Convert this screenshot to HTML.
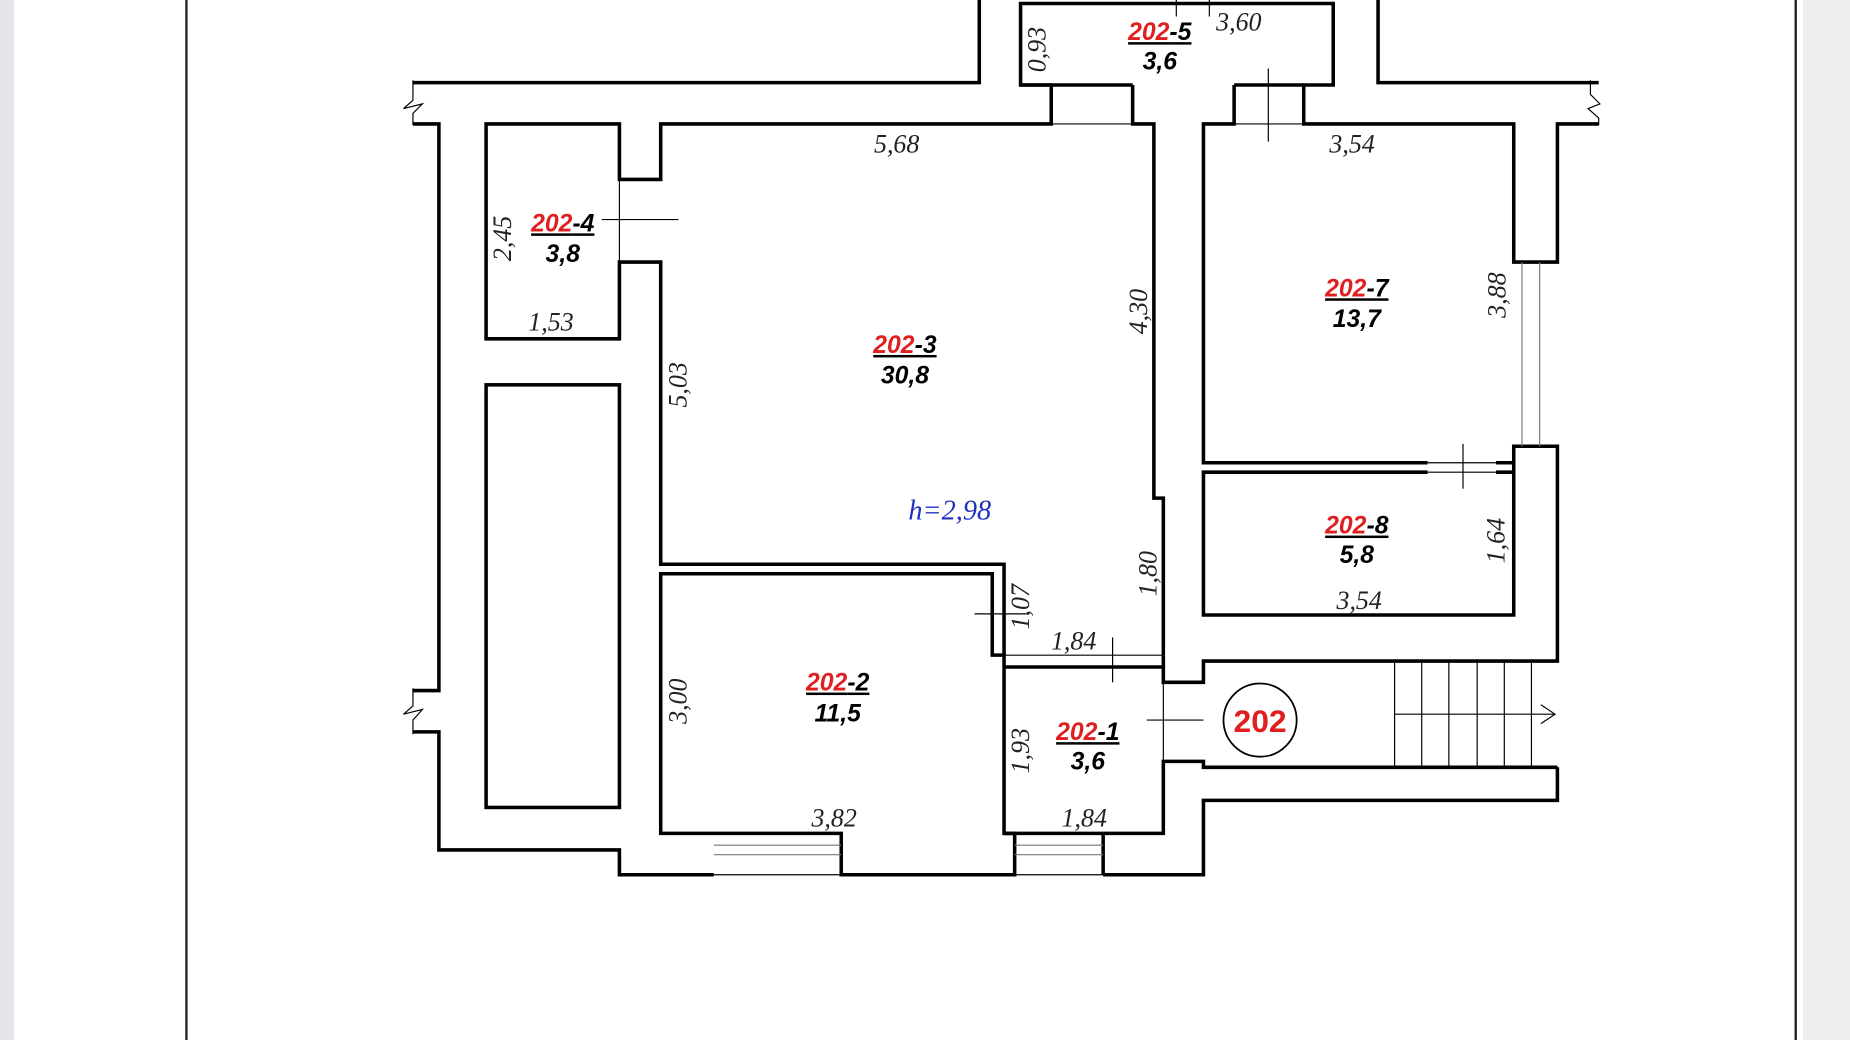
<!DOCTYPE html>
<html><head><meta charset="utf-8"><style>
html,body{margin:0;padding:0;background:#fff;}
svg{display:block;}
.w{fill:none;stroke:#000;stroke-width:3;stroke-linejoin:miter;}
.t{fill:none;stroke:#000;stroke-width:1;}
.g{fill:none;stroke:#777;stroke-width:1;}
.d{font-family:"Liberation Serif",serif;font-style:italic;font-size:22px;fill:#222;}
.r{font-family:"Liberation Sans",sans-serif;font-style:italic;font-weight:bold;font-size:21px;}
</style></head><body>
<svg width="1850" height="1040" viewBox="0 0 1568 881" preserveAspectRatio="none" xmlns="http://www.w3.org/2000/svg">
<rect x="0" y="0" width="12" height="881" fill="#e6e6ea"/>
<rect x="1528" y="0" width="40" height="881" fill="#eeeef0"/>
<line x1="158" y1="0" x2="158" y2="881" stroke="#222" stroke-width="2"/>
<line x1="1522" y1="0" x2="1522" y2="881" stroke="#222" stroke-width="2"/>

<!-- outer walls -->
<polyline class="w" points="350,70 830,70 830,0"/>
<polyline class="t" points="350,68 350,85 342,92 358,88 350,96 350,106"/>
<polyline class="w" points="350,105 372,105 372,585 350,585"/>
<polyline class="t" points="350,583 350,598 342,605 358,601 350,610 350,622"/>
<polyline class="w" points="350,620 372,620 372,720 525,720 525,741 605,741"/>
<polyline class="w" points="605,706 560,706 560,486 841,486 841,555 851,555 851,706 860,706 860,741 713,741 713,706 605,706"/>
<line class="g" x1="605" y1="716" x2="713" y2="716"/><line class="g" x1="605" y1="724" x2="713" y2="724"/><line class="t" x1="605" y1="741" x2="713" y2="741"/>
<polyline class="w" points="860,706 851,706"/>
<polyline class="w" points="935,741 1020,741 1020,678 1320,678 1320,650"/>
<polyline class="w" points="935,706 935,741"/>
<line class="g" x1="860" y1="716" x2="935" y2="716"/><line class="g" x1="860" y1="724" x2="935" y2="724"/><line class="t" x1="860" y1="741" x2="935" y2="741"/>
<polyline class="w" points="851,565 986,565 986,578 1020,578 1020,560 1320,560 1320,378 1283,378 1283,521 1020,521 1020,400 1210,400"/>
<polyline class="w" points="1268,400 1283,400"/>
<polyline class="w" points="935,706 986,706 986,645 1020,645 1020,650 1320,650"/>
<polyline class="w" points="851,706 935,706"/>
<line class="t" x1="1020" y1="650" x2="1320" y2="650"/>

<!-- top right -->
<polyline class="w" points="1168,0 1168,70 1355,70"/>
<polyline class="t" points="1348,68 1348,80 1356,88 1346,92 1355,100 1355,106"/>
<polyline class="w" points="1355,105 1320,105 1320,222 1283,222 1283,105 1105,105 1105,72 1130,72 1130,3 865,3 865,72 891,72 891,105 560,105 560,152 525,152 525,105 412,105 412,287 525,287 525,222 560,222 560,478 851,478 851,555"/>
<line class="g" x1="1290" y1="222" x2="1290" y2="378"/><line class="g" x1="1305" y1="222" x2="1305" y2="378"/>
<polyline class="w" points="960,72 960,105 978,105 978,422 986,422 986,555"/>
<polyline class="w" points="1046,72 1046,105 1020,105 1020,392 1210,392"/>
<polyline class="w" points="865,72 960,72"/><polyline class="w" points="1046,72 1105,72"/>
<line class="t" x1="891" y1="105" x2="960" y2="105"/>
<line class="t" x1="1046" y1="105" x2="1105" y2="105"/>
<line class="t" x1="1075" y1="58" x2="1075" y2="120"/>
<line class="t" x1="997" y1="0" x2="997" y2="14"/><line class="t" x1="1025" y1="0" x2="1025" y2="14"/>
<polyline class="w" points="1268,392 1283,392"/>
<line class="t" x1="1210" y1="392" x2="1268" y2="392"/><line class="t" x1="1210" y1="400" x2="1268" y2="400"/>
<line class="t" x1="1240" y1="376" x2="1240" y2="414"/>
<line class="t" x1="525" y1="152" x2="525" y2="222"/><line class="t" x1="510" y1="186" x2="575" y2="186"/>
<line class="t" x1="841" y1="555" x2="851" y2="555"/>
<line class="t" x1="826" y1="520" x2="870" y2="520"/>
<line class="t" x1="851" y1="555" x2="986" y2="555"/>
<line class="t" x1="943" y1="540" x2="943" y2="578"/>
<line class="t" x1="986" y1="578" x2="986" y2="645"/>
<line class="t" x1="972" y1="610" x2="1020" y2="610"/>
<polyline class="w" points="986,555 986,565"/>
<rect class="w" x="412" y="326" width="113" height="358"/>

<!-- stairs -->
<g class="t"><line x1="1182" y1="560" x2="1182" y2="650"/><line x1="1205" y1="560" x2="1205" y2="650"/><line x1="1228" y1="560" x2="1228" y2="650"/><line x1="1252" y1="560" x2="1252" y2="650"/><line x1="1275" y1="560" x2="1275" y2="650"/><line x1="1298" y1="560" x2="1298" y2="650"/>
<line x1="1182" y1="605" x2="1318" y2="605"/><polyline points="1306,597 1318,605 1306,613"/></g>
<circle cx="1068" cy="610" r="31" fill="none" stroke="#000" stroke-width="1.5"/>
<text x="1068" y="620" text-anchor="middle" font-family="Liberation Sans,sans-serif" font-weight="bold" font-size="27" fill="#e02020">202</text>

<!-- dims -->
<text class="d" x="760" y="129" text-anchor="middle">5,68</text>
<text class="d" x="1146" y="129" text-anchor="middle">3,54</text>
<text class="d" x="1050" y="26" text-anchor="middle">3,60</text>
<text class="d" x="467" y="280" text-anchor="middle">1,53</text>
<text class="d" x="707" y="700" text-anchor="middle">3,82</text>
<text class="d" x="919" y="700" text-anchor="middle">1,84</text>
<text class="d" x="910" y="550" text-anchor="middle">1,84</text>
<text class="d" x="1152" y="516" text-anchor="middle">3,54</text>
<text class="d" transform="translate(886,42) rotate(-90)" text-anchor="middle">0,93</text>
<text class="d" transform="translate(433,202) rotate(-90)" text-anchor="middle">2,45</text>
<text class="d" transform="translate(582,326) rotate(-90)" text-anchor="middle">5,03</text>
<text class="d" transform="translate(972,264) rotate(-90)" text-anchor="middle">4,30</text>
<text class="d" transform="translate(1276,250) rotate(-90)" text-anchor="middle">3,88</text>
<text class="d" transform="translate(1275,458) rotate(-90)" text-anchor="middle">1,64</text>
<text class="d" transform="translate(980,486) rotate(-90)" text-anchor="middle">1,80</text>
<text class="d" transform="translate(872,514) rotate(-90)" text-anchor="middle">1,07</text>
<text class="d" transform="translate(582,594) rotate(-90)" text-anchor="middle">3,00</text>
<text class="d" transform="translate(872,636) rotate(-90)" text-anchor="middle">1,93</text>
<text x="805" y="440" text-anchor="middle" font-family="Liberation Serif,serif" font-style="italic" font-size="24" fill="#2030c0">h=2,98</text>

<!-- room labels -->
<g class="r" text-anchor="middle">
<text x="983" y="34" text-decoration="underline"><tspan fill="#e02020">202</tspan><tspan fill="#000">-5</tspan></text><text x="983" y="59">3,6</text>
<text x="477" y="196" text-decoration="underline"><tspan fill="#e02020">202</tspan><tspan fill="#000">-4</tspan></text><text x="477" y="222">3,8</text>
<text x="767" y="299" text-decoration="underline"><tspan fill="#e02020">202</tspan><tspan fill="#000">-3</tspan></text><text x="767" y="325">30,8</text>
<text x="1150" y="251" text-decoration="underline"><tspan fill="#e02020">202</tspan><tspan fill="#000">-7</tspan></text><text x="1150" y="277">13,7</text>
<text x="1150" y="452" text-decoration="underline"><tspan fill="#e02020">202</tspan><tspan fill="#000">-8</tspan></text><text x="1150" y="477">5,8</text>
<text x="710" y="585" text-decoration="underline"><tspan fill="#e02020">202</tspan><tspan fill="#000">-2</tspan></text><text x="710" y="611">11,5</text>
<text x="922" y="627" text-decoration="underline"><tspan fill="#e02020">202</tspan><tspan fill="#000">-1</tspan></text><text x="922" y="652">3,6</text>
</g>
</svg>
</body></html>
